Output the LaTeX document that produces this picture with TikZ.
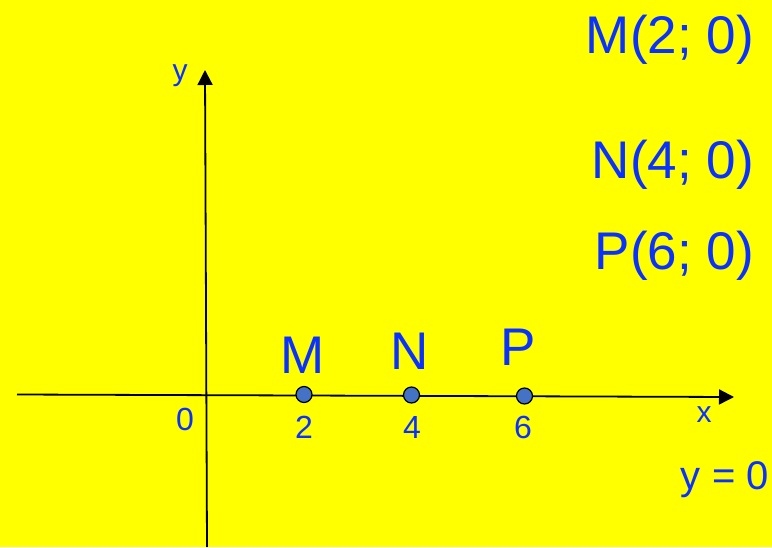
\documentclass[tikz,border=0pt]{standalone}
\usepackage{fontspec}
\setmainfont{Liberation Sans}
\usetikzlibrary{arrows.meta}
\definecolor{labelblue}{RGB}{10,50,255}
\definecolor{dotblue}{RGB}{68,114,196}
\definecolor{bgyellow}{RGB}{255,255,0}

\begin{document}
\begin{tikzpicture}[x=1pt, y=-1pt,
    lbl/.style={text=labelblue, inner sep=0pt, anchor=base},
    big/.style={lbl, font=\fontsize{53}{53}\selectfont},
    mid/.style={lbl, font=\fontsize{40}{40}\selectfont},
    num/.style={lbl, font=\fontsize{32}{32}\selectfont},
    small/.style={lbl, font=\fontsize{30}{30}\selectfont},
    axis/.style={-{Triangle[length=15pt,width=15pt]}, line width=1.8pt, black},
    dot/.style={circle, draw=black, line width=1.2pt, fill=dotblue, minimum size=16pt, inner sep=0pt},
]
% Background
\fill[bgyellow] (0,0) rectangle (772,547);
\useasboundingbox (0,0) rectangle (772,547);

% Axes
\coordinate (xstart) at (17,394.5);
\coordinate (xend) at (734,397);
\coordinate (ystart) at (207,547);
\coordinate (yend) at (205,70);
\draw[axis] (xstart) -- (xend);
\draw[axis] (ystart) -- (yend);
\node[small] (ylbl) at (180,80) {y};
\node[small] (xlbl) at (704,422) {x};
\node[num] (orig) at (185,430) {0};

% Points on the x axis
\node[dot] (m) at (304,394.5) {};
\node[dot] (n) at (411.5,395) {};
\node[dot] (p) at (524.5,396) {};
\node[big] (mlbl) at (303,373) {M};
\node[big] (nlbl) at (410,369) {N};
\node[big] (plbl) at (518,365) {P};
\node[num] (mval) at (304,438) {2};
\node[num] (nval) at (412,438) {4};
\node[num] (pval) at (523,438) {6};

% Coordinates
\node[big, anchor=base east] (mco) at (754,53) {M(2; 0)};
\node[big, anchor=base east] (nco) at (754,178) {N(4; 0)};
\node[big, anchor=base east] (pco) at (754,269) {P(6; 0)};
\node[mid, anchor=base east] (eq) at (769,489) {y = 0};
\end{tikzpicture}
\end{document}
